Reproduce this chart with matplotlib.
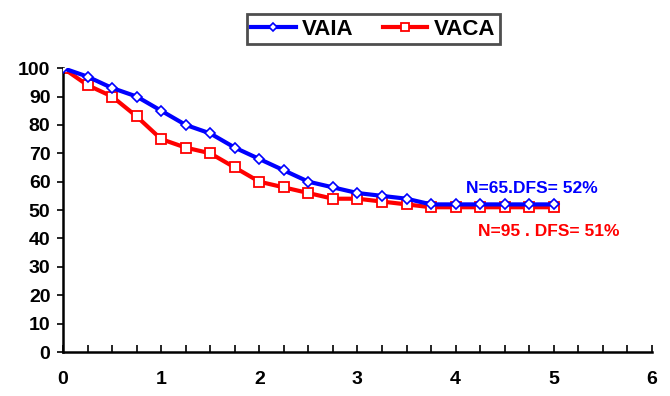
import numpy as np
import matplotlib
matplotlib.use('Agg')
from matplotlib import pyplot as plt
from matplotlib.ticker import MultipleLocator

plt.rcParams['font.family'] = ['Liberation Sans', 'DejaVu Sans']

years = [0, 0.25, 0.5, 0.75, 1, 1.25, 1.5, 1.75, 2, 2.25, 2.5, 2.75, 3, 3.25, 3.5,
         3.75, 4, 4.25, 4.5, 4.75, 5]
vaia = [100, 97, 93, 90, 85, 80, 77, 72, 68, 64, 60, 58, 56, 55, 54, 52, 52, 52, 52, 52, 52]
vaca = [100, 94, 90, 83, 75, 72, 70, 65, 60, 58, 56, 54, 54, 53, 52, 51, 51, 51, 51, 51, 51]

fig = plt.figure(figsize=(6.7, 3.96), dpi=100)
ax = fig.add_axes([0.094, 0.111, 0.879, 0.717])

l1, = ax.plot(years, vaia, color='#0000ff', lw=3, marker='D', markersize=5,
              mfc='white', mec='#0000ff', mew=1.2, zorder=3)
l2, = ax.plot(years, vaca, color='#ff0000', lw=3, marker='s', markersize=7,
              mfc='white', mec='#ff0000', mew=1.3, zorder=2)

ax.set_xlim(0, 6)
ax.set_ylim(0, 100)
ax.xaxis.set_major_locator(MultipleLocator(1))
ax.xaxis.set_minor_locator(MultipleLocator(0.25))
ax.yaxis.set_major_locator(MultipleLocator(10))
ax.tick_params(axis='x', which='both', direction='in', length=5, width=1.2, pad=14,
               labelsize=14)
ax.tick_params(axis='y', direction='out', length=4, width=1.2, pad=5, labelsize=14)
for lab in ax.get_xticklabels() + ax.get_yticklabels():
    lab.set_fontweight('bold')
for s in ['top', 'right']:
    ax.spines[s].set_visible(False)
for s in ['left', 'bottom']:
    ax.spines[s].set_linewidth(1.8)
ax.spines['bottom'].set_zorder(5)

ax.text(4.78, 57.5, 'N=65.DFS= 52%', color='#0000ff', fontsize=12.5, fontweight='bold',
        ha='center', va='center')
ax.text(4.95, 42.5, 'N=95 . DFS= 51%', color='#ff0000', fontsize=12.5, fontweight='bold',
        ha='center', va='center')

leg = fig.legend([l1, l2], ['VAIA', 'VACA'], loc='upper center',
                 bbox_to_anchor=(0.557, 0.992), ncol=2, frameon=True, fancybox=False,
                 edgecolor='#222222', handlelength=2.0, columnspacing=1.3,
                 prop={'weight': 'bold', 'size': 16}, borderpad=0.2, handletextpad=0.3,
                 markerscale=0.8)
leg.get_frame().set_linewidth(2)

fig.savefig('out.png', dpi=100)
